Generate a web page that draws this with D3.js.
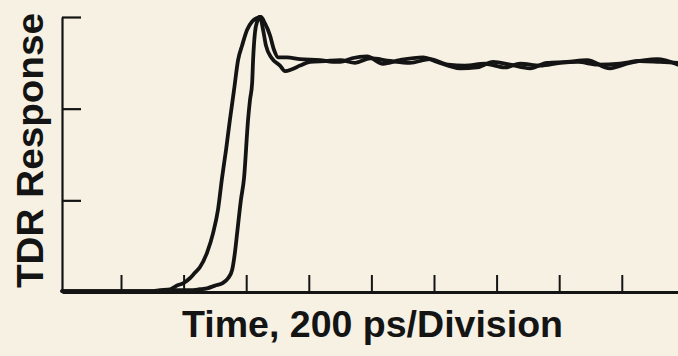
<!DOCTYPE html>
<html>
<head>
<meta charset="utf-8">
<script src="https://cdn.jsdelivr.net/npm/d3@7"></script>
<style>
  html, body { margin: 0; padding: 0; background: #f6f1e3; }
  svg { display: block; }
</style>
</head>
<body>
<svg id="chart" width="678" height="356"></svg>
<script>
// Time in ps, response in divisions
const xTicks = [200, 400, 600, 800, 1000, 1200, 1400, 1600, 1800];
const yTicks = [1, 2, 3];
const xLabel = "Time, 200 ps/Division";
const yLabel = "TDR Response";

const trace1Time = [12, 197, 293, 325, 357, 379, 401, 420, 436, 452, 475, 494, 510, 523, 536, 548, 561, 574, 587, 603, 619, 635, 647, 660, 676, 689, 702, 730, 772, 836, 877, 900, 938, 986, 1037, 1091, 1165, 1210, 1283, 1337, 1389, 1443, 1507, 1561, 1625, 1689, 1762, 1826, 1913, 1980];
const trace1Value = [0.01, 0.01, 0.01, 0.02, 0.03, 0.07, 0.10, 0.15, 0.21, 0.27, 0.43, 0.64, 0.90, 1.25, 1.56, 1.88, 2.20, 2.53, 2.69, 2.86, 2.95, 2.99, 3.00, 2.93, 2.80, 2.64, 2.56, 2.56, 2.54, 2.53, 2.51, 2.51, 2.55, 2.57, 2.49, 2.53, 2.56, 2.51, 2.44, 2.45, 2.51, 2.48, 2.44, 2.50, 2.51, 2.53, 2.44, 2.50, 2.54, 2.48];

const trace2Time = [12, 293, 373, 421, 452, 475, 500, 526, 542, 555, 564, 571, 583, 593, 606, 612, 619, 622, 628, 635, 644, 654, 663, 682, 708, 724, 746, 772, 804, 852, 900, 948, 996, 1060, 1123, 1187, 1245, 1299, 1363, 1427, 1475, 1539, 1603, 1660, 1724, 1794, 1858, 1922, 1980];
const trace2Value = [0.01, 0.01, 0.02, 0.02, 0.03, 0.04, 0.07, 0.10, 0.15, 0.24, 0.43, 0.64, 1.00, 1.24, 1.88, 2.09, 2.28, 2.53, 2.83, 2.95, 3.00, 2.86, 2.69, 2.55, 2.47, 2.41, 2.43, 2.47, 2.51, 2.52, 2.53, 2.50, 2.55, 2.52, 2.50, 2.54, 2.48, 2.47, 2.49, 2.45, 2.49, 2.47, 2.50, 2.51, 2.48, 2.49, 2.52, 2.51, 2.50];

const svg = d3.select("#chart");
const ink = "#141414";

const x = d3.scaleLinear().domain([11.5, 1979.6]).range([62, 678]);
const y = d3.scaleLinear().domain([0, 3]).range([292, 17]);

svg.append("rect").attr("width", 678).attr("height", 356).attr("fill", "#f6f1e3");

// Y axis (ticks pointing inward)
const yAxis = svg.append("g")
  .attr("transform", "translate(62,0)")
  .call(d3.axisRight(y).tickValues(yTicks).tickSize(19).tickSizeOuter(0).tickFormat(""));
yAxis.select(".domain").attr("stroke", ink).attr("stroke-width", 2.2);
yAxis.selectAll(".tick line").attr("stroke", ink).attr("stroke-width", 2.2);

// X axis (ticks pointing upward)
const xAxis = svg.append("g")
  .attr("transform", "translate(0,292)")
  .call(d3.axisTop(x).tickValues(xTicks).tickSize(17).tickSizeOuter(0).tickFormat(""));
xAxis.select(".domain").attr("stroke", ink).attr("stroke-width", 3);
xAxis.selectAll(".tick line").attr("stroke", ink).attr("stroke-width", 2);

const line = d3.line()
  .x(d => x(d[0]))
  .y(d => y(d[1]))
  .curve(d3.curveMonotoneX);

[[trace1Time, trace1Value], [trace2Time, trace2Value]].forEach(([t, v]) => {
  svg.append("path")
    .datum(t.map((ti, i) => [ti, v[i]]))
    .attr("fill", "none")
    .attr("stroke", ink)
    .attr("stroke-width", 3.8)
    .attr("stroke-linejoin", "round")
    .attr("stroke-linecap", "round")
    .attr("d", line);
});

// Axis titles
svg.append("text")
  .attr("x", 372.5).attr("y", 337)
  .attr("text-anchor", "middle")
  .attr("font-family", "'Liberation Sans', Arial, sans-serif")
  .attr("font-weight", "bold")
  .attr("font-size", 36)
  .attr("fill", ink)
  .attr("textLength", 381)
  .attr("lengthAdjust", "spacingAndGlyphs")
  .text(xLabel);

svg.append("text")
  .attr("transform", "translate(43,150.5) rotate(-90)")
  .attr("text-anchor", "middle")
  .attr("font-family", "'Liberation Sans', Arial, sans-serif")
  .attr("font-weight", "bold")
  .attr("font-size", 37)
  .attr("fill", ink)
  .attr("textLength", 275)
  .attr("lengthAdjust", "spacingAndGlyphs")
  .text(yLabel);
</script>
</body>
</html>
